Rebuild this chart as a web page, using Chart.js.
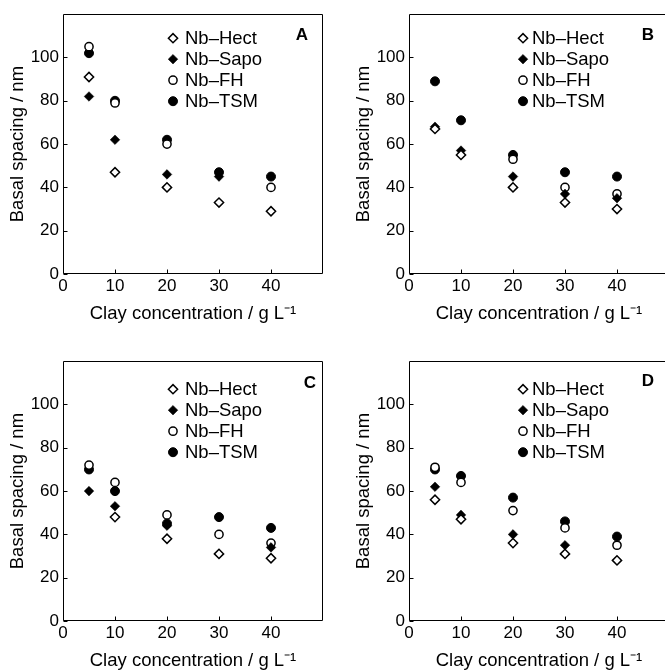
<!DOCTYPE html>
<html><head><meta charset="utf-8">
<script src="https://cdn.jsdelivr.net/npm/chart.js@4.4.1/dist/chart.umd.min.js"></script>
<style>
html,body{margin:0;padding:0;background:#fff;overflow:hidden;width:665px;height:672px;position:relative;}
canvas{position:absolute;}
</style></head><body>
<canvas id="cA" width="335" height="336" style="left:0px;top:0px"></canvas>
<canvas id="cB" width="335" height="336" style="left:346px;top:0px"></canvas>
<canvas id="cC" width="335" height="336" style="left:0px;top:347px"></canvas>
<canvas id="cD" width="335" height="336" style="left:346px;top:347px"></canvas>
<script>
// ---- data ----
const concentrations = [5, 10, 20, 30, 40];
const seriesNames = ['Nb–Hect', 'Nb–Sapo', 'Nb–FH', 'Nb–TSM'];
const xTickValues = [0, 10, 20, 30, 40];
const yTickValues = [0, 20, 40, 60, 80, 100];
const panelLetters = ['A', 'B', 'C', 'D'];
const xTitle = 'Clay concentration / g L⁻¹';
const yTitle = 'Basal spacing / nm';

const hectA = [91, 47, 40, 33, 29];
const sapoA = [82, 62, 46, 45, null];
const fhA   = [105, 79, 60, null, 40];
const tsmA  = [102, 80, 62, 47, 45];

const hectB = [67, 55, 40, 33, 30];
const sapoB = [68, 57, 45, 37, 35];
const fhB   = [null, null, 53, 40, 37];
const tsmB  = [89, 71, 55, 47, 45];

const hectC = [null, 48, 38, 31, 29];
const sapoC = [60, 53, 44, null, 34];
const fhC   = [72, 64, 49, 40, 36];
const tsmC  = [70, 60, 45, 48, 43];

const hectD = [56, 47, 36, 31, 28];
const sapoD = [62, 49, 40, 35, null];
const fhD   = [71, 64, 51, 43, 35];
const tsmD  = [70, 67, 57, 46, 39];

// ---- styles ----
const FONT = "'Liberation Sans', Arial, Helvetica, sans-serif";
const markerStyles = [
  {pointStyle: 'rectRot', radius: 4.6, backgroundColor: '#fff', borderColor: '#000', borderWidth: 1.5},
  {pointStyle: 'rectRot', radius: 4.8, backgroundColor: '#000', borderColor: '#000', borderWidth: 0.5},
  {pointStyle: 'circle', radius: 4.1, backgroundColor: '#fff', borderColor: '#000', borderWidth: 1.5},
  {pointStyle: 'circle', radius: 4.5, backgroundColor: '#000', borderColor: '#000', borderWidth: 1}
];

const panels = [
  {id: 'cA', letter: panelLetters[0], series: [hectA, sapoA, fhA, tsmA], legendTop: 24, markerX: 110, textX: 122, letterX: 239, letterY: 21},
  {id: 'cB', letter: panelLetters[1], series: [hectB, sapoB, fhB, tsmB], legendTop: 24, markerX: 114, textX: 123, letterX: 239, letterY: 21},
  {id: 'cC', letter: panelLetters[2], series: [hectC, sapoC, fhC, tsmC], legendTop: 28, markerX: 110, textX: 122, letterX: 247, letterY: 22},
  {id: 'cD', letter: panelLetters[3], series: [hectD, sapoD, fhD, tsmD], legendTop: 28, markerX: 114, textX: 123, letterX: 239, letterY: 20}
];

const framePlugin = {
  id: 'frame',
  afterDraw(chart, args, opts) {
    const {ctx, chartArea: a, scales: {x, y}} = chart;
    const p = opts.panel;
    ctx.save();
    ctx.strokeStyle = '#000';
    ctx.lineWidth = 1;
    const L = Math.round(a.left) + 0.5, R = Math.round(a.right) - 0.5;
    const T = Math.round(a.top) + 0.5, B = Math.round(a.bottom) - 0.5;
    ctx.beginPath();
    ctx.rect(L, T, R - L, B - T);
    ctx.stroke();
    ctx.beginPath();
    xTickValues.forEach(v => {
      const px = Math.round(x.getPixelForValue(v)) + 0.5;
      ctx.moveTo(px, B); ctx.lineTo(px, B - 4);
    });
    yTickValues.forEach(v => {
      const py = Math.round(y.getPixelForValue(v)) + 0.5;
      ctx.moveTo(L, py); ctx.lineTo(L + 4, py);
    });
    ctx.stroke();
    // legend
    ctx.font = '18.5px ' + FONT;
    ctx.textBaseline = 'middle';
    ctx.textAlign = 'left';
    seriesNames.forEach((name, i) => {
      const cy = a.top + p.legendTop + i * 21;
      const st = markerStyles[i];
      ctx.fillStyle = st.backgroundColor;
      ctx.strokeStyle = st.borderColor;
      ctx.lineWidth = st.borderWidth;
      Chart.helpers.drawPoint(ctx, {pointStyle: st.pointStyle, radius: st.radius, rotation: 0, borderWidth: st.borderWidth}, a.left + p.markerX, cy);
      ctx.fillStyle = '#000';
      ctx.fillText(name, a.left + p.textX, cy + 1);
    });
    // panel letter
    ctx.font = 'bold 17px ' + FONT;
    ctx.textAlign = 'center';
    ctx.fillText(p.letter, a.left + p.letterX, a.top + p.letterY);
    ctx.restore();
  }
};

Chart.defaults.font.family = FONT;
Chart.defaults.color = '#000';

panels.forEach(p => {
  const datasets = p.series.map((vals, i) => Object.assign({
    label: seriesNames[i],
    data: concentrations.map((c, j) => ({x: c, y: vals[j]})).filter(d => d.y !== null),
    showLine: false
  }, markerStyles[i], {pointRadius: markerStyles[i].radius}));
  new Chart(document.getElementById(p.id), {
    type: 'scatter',
    data: {datasets},
    options: {
      responsive: false,
      animation: false,
      events: [],
      layout: {padding: {top: 14, right: 12, bottom: 0, left: 0}},
      plugins: {legend: {display: false}, tooltip: {enabled: false}, frame: {panel: p}},
      scales: {
        x: {
          type: 'linear', min: 0, max: 50,
          grid: {display: false, drawTicks: false},
          border: {display: false},
          ticks: {stepSize: 10, padding: 2, font: {size: 17}, color: '#000',
                  callback: v => xTickValues.includes(v) ? String(v) : ''},
          title: {display: true, text: xTitle, font: {size: 18.5}, color: '#000', padding: {top: 0, bottom: 11}},
          afterFit: s => { s.height = 62; }
        },
        y: {
          type: 'linear', min: 0, max: 120,
          grid: {display: false, drawTicks: false},
          border: {display: false},
          ticks: {stepSize: 20, padding: 4, font: {size: 17}, color: '#000',
                  callback: v => yTickValues.includes(v) ? String(v) : ''},
          title: {display: true, text: yTitle, font: {size: 18.5}, color: '#000', padding: {top: 7, bottom: 0}},
          afterFit: s => { s.width = 63; }
        }
      }
    },
    plugins: [framePlugin]
  });
});
</script>
</body></html>
